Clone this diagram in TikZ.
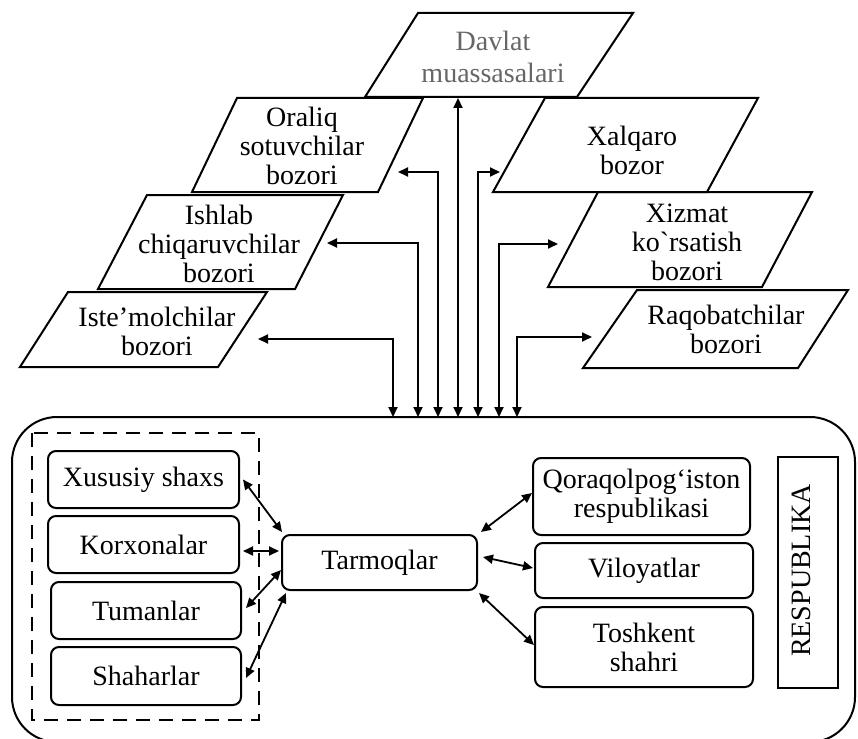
\documentclass[tikz,border=0pt]{standalone}
\usepackage{fontspec}
\setmainfont{Liberation Serif}
\usetikzlibrary{arrows.meta,calc}
\begin{document}
\begin{tikzpicture}[x=1pt,y=-1pt,
  every node/.style={font=\fontsize{28}{29}\selectfont, inner sep=0pt, align=center},
  para/.style={draw, line width=2pt, line join=miter},
  rbox/.style={draw, line width=2pt, rounded corners=8pt},
  conn/.style={line width=1.8pt, {Triangle[length=10pt,width=9pt]}-{Triangle[length=10pt,width=9pt]}},
  frame/.style={draw, line width=2pt}]
\useasboundingbox (0,0) rectangle (858,738);
\clip (0,0) rectangle (858,738);

% outer rounded frame
\draw[frame, rounded corners=45pt] (12,417) rectangle (855,742);
% dashed group
\draw[line width=2pt, dash pattern=on 14pt off 9pt] (32,433) rectangle (259,720);

% parallelograms
\draw[para] (365,97) -- (577,97) -- (633,13) -- (418,13) -- cycle;
\draw[para] (192,192) -- (378,192) -- (423,98) -- (237,98) -- cycle;
\draw[para] (493,192) -- (707,192) -- (758,98) -- (545,98) -- cycle;
\draw[para] (98,289) -- (295,289) -- (343,195) -- (147,195) -- cycle;
\draw[para] (548,287) -- (762,287) -- (812,192) -- (598,192) -- cycle;
\draw[para] (20,367) -- (218,367) -- (267,292) -- (68,292) -- cycle;
\draw[para] (583,368) -- (798,368) -- (848,290) -- (637,290) -- cycle;

\node[text=black!60] (dav) at (493,57) {Davlat\\[3pt]muassasalari};
\node (ora) at (302,146) {Oraliq\\sotuvchilar\\bozori};
\node (xal) at (632,150) {Xalqaro\\bozor};
\node (ish) at (219,244) {Ishlab\\chiqaruvchilar\\bozori};
\node (xiz) at (687,242) {Xizmat\\ko\textasciigrave rsatish\\bozori};
\node (ist) at (157,331) {Iste’molchilar\\bozori};
\node (raq) at (726,329) {Raqobatchilar\\bozori};

% top connectors
\coordinate (b1) at (393,417); \coordinate (e1) at (258,339);
\coordinate (b2) at (418,417); \coordinate (e2) at (327,243);
\coordinate (b3) at (438,417); \coordinate (e3) at (398,172);
\coordinate (b4) at (458,417); \coordinate (e4) at (458,98);
\coordinate (b5) at (478,417); \coordinate (e5) at (500,172);
\coordinate (b6) at (499,417); \coordinate (e6) at (558,244);
\coordinate (b7) at (517,417); \coordinate (e7) at (592,337);
\draw[conn] (b1) |- (e1);
\draw[conn] (b2) |- (e2);
\draw[conn] (b3) |- (e3);
\draw[conn] (b4) -- (e4);
\draw[conn] (b5) |- (e5);
\draw[conn] (b6) |- (e6);
\draw[conn] (b7) |- (e7);

% lower boxes
\node[rbox, minimum width=191pt, minimum height=57pt] (xus) at (143.5,479.5) {Xususiy shaxs};
\node[rbox, minimum width=191pt, minimum height=57pt] (kor) at (143.5,544.5) {Korxonalar};
\node[rbox, minimum width=190pt, minimum height=57pt] (tum) at (146,610.5) {Tumanlar};
\node[rbox, minimum width=190pt, minimum height=58pt] (sha) at (146,676) {Shaharlar};
\node[rbox, minimum width=195pt, minimum height=55pt] (tar) at (379.5,562.5) {Tarmoqlar};
\node[rbox, minimum width=217pt, minimum height=77pt] (qor) at (641.5,496.5) {Qoraqolpog‘iston\\respublikasi};
\node[rbox, minimum width=218pt, minimum height=55pt] (vil) at (644,570.5) {Viloyatlar};
\node[rbox, minimum width=218pt, minimum height=80pt] (tos) at (644,647) {Toshkent\\shahri};
\node[frame, minimum width=60pt, minimum height=231pt] (resp) at (808,572.5) {};
\node[rotate=90, anchor=base] (resptxt) at (810,570.5) {RESPUBLIKA};

% lower connectors
\draw[conn] ([xshift=3pt]xus.east) -- ([xshift=1pt,yshift=2pt]tar.north west);
\draw[conn] ([xshift=3pt,yshift=-6.5pt]kor.east) -- ([xshift=-2pt,yshift=11.5pt]tar.west);
\draw[conn] ([xshift=4pt,yshift=2.5pt]tum.east) -- ([yshift=-7.5pt]tar.west);
\draw[conn] ([xshift=4pt,yshift=-2pt]sha.east) -- ([xshift=5pt,yshift=-2pt]tar.south west);
\draw[conn] ([xshift=3pt,yshift=2pt]tar.north east) -- ([yshift=3.5pt]qor.west);
\draw[conn] ([xshift=5pt,yshift=5.5pt]tar.east) -- ([xshift=-1pt,yshift=2.5pt]vil.west);
\draw[conn] ([xshift=1pt,yshift=-2pt]tar.south east) -- ([yshift=2pt]tos.west);
\end{tikzpicture}
\end{document}
